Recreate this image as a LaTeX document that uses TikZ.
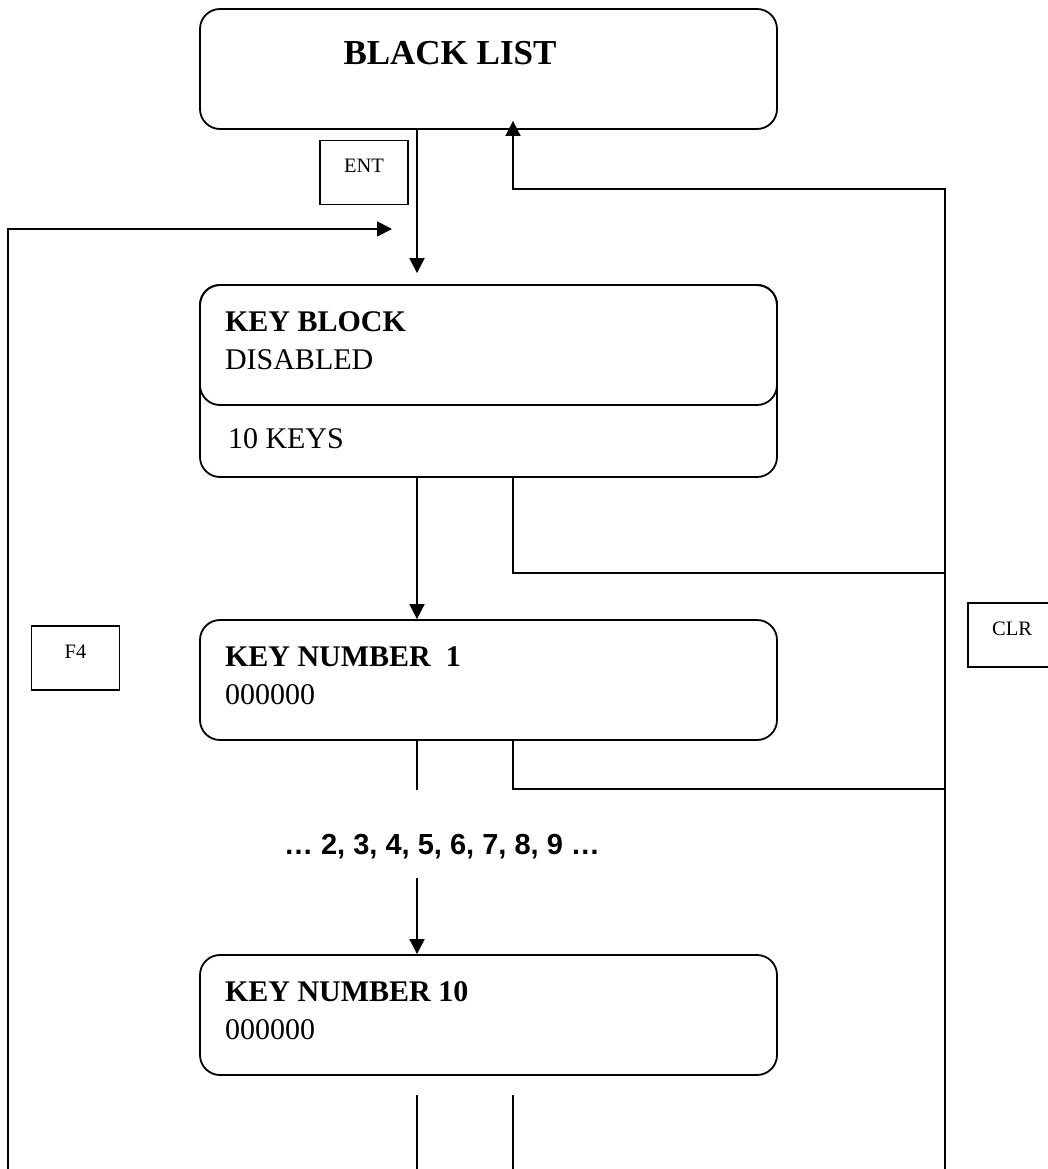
\documentclass[tikz,border=0pt]{standalone}
\usepackage{fontspec}
\setmainfont{Liberation Serif}
\newfontfamily\arialfont{Liberation Sans}
\usetikzlibrary{arrows.meta,positioning}

\tikzset{
  menubox/.style={draw, rounded corners=20pt, minimum width=577pt, minimum height=120pt, inner sep=0pt},
  keybox/.style={draw, minimum width=88pt, minimum height=64pt, inner sep=0pt,
    text height=14pt, text depth=14pt, font=\fontsize{20.5}{24}\selectfont},
  menuhead/.style={anchor=base west, inner sep=0pt, font=\bfseries\fontsize{30}{36}\selectfont},
  menuline/.style={anchor=base west, inner sep=0pt, font=\fontsize{30}{36}\selectfont},
  flow/.style={-{Triangle[length=15pt,width=15pt]}},
}

\begin{document}
\begin{tikzpicture}[x=1pt, y=-1pt, line width=1.8pt]
  \useasboundingbox (0,0) rectangle (1047,1169);

  % columns of the connectors
  \coordinate (colA) at (417,0);
  \coordinate (colB) at (513,0);
  \coordinate (colR) at (945,0);

  % menu screens
  \node[menubox] (black) at (488.5,69) {};
  \node[inner sep=0pt, anchor=base, font=\bfseries\fontsize{35}{40}\selectfont] (blacktitle) at (450,65) {BLACK LIST};

  \node[menubox, minimum height=192pt] (keyblock) at (488.5,381) {};
  \node[menubox, anchor=north] (keyblockhead) at (keyblock.north) {};
  \node[menuhead] (keyblockname) at ([shift={(25,47)}]keyblock.north west) {KEY BLOCK};
  \node[menuline] (keyblockstate) at ([shift={(25,85)}]keyblock.north west) {DISABLED};
  \node[menuline] (keycount) at ([shift={(28,-29)}]keyblock.south west) {10 KEYS};

  \node[menubox] (keyone) at (488.5,680) {};
  \node[menuhead] (keyonename) at ([shift={(25,47)}]keyone.north west) {KEY NUMBER\ \ 1};
  \node[menuline] (keyonecode) at ([shift={(25,85)}]keyone.north west) {000000};

  \node[inner sep=0pt, font=\arialfont\bfseries\fontsize{29}{34}\selectfont] (dots) at (442,847) {… 2, 3, 4, 5, 6, 7, 8, 9 …};

  \node[menubox] (keyten) at (488.5,1015) {};
  \node[menuhead] (keytenname) at ([shift={(25,47)}]keyten.north west) {KEY NUMBER 10};
  \node[menuline] (keytencode) at ([shift={(25,85)}]keyten.north west) {000000};

  % keys
  \node[keybox] (ent) at (364,172.5) {ENT};
  \node[keybox] (ffour) at (75.5,658) {F4};
  \node[keybox] (clr) at (1012,635) {CLR};

  % free ends
  \coordinate (leftbottom) at (8,1169);
  \coordinate (rightbottom) at (945,1169);
  \coordinate (entin) at (392,229);
  \coordinate (clrin) at (513,189);
  \coordinate (backA) at (945,573);
  \coordinate (backB) at (945,789);
  \coordinate (gapA) at (417,790);
  \coordinate (gapB) at (417,878);
  \coordinate (tailA) at (417,1095);
  \coordinate (tailB) at (513,1095);

  % forward
  \draw[flow, shorten >=11pt] (black.south -| colA) -- (keyblock.north -| colA);
  \draw[flow] (keyblock.south -| colA) -- (keyone.north -| colA);
  \draw (keyone.south -| colA) -- (gapA);
  \draw[flow] (gapB) -- (keyten.north -| colA);
  \draw (tailA) -- (tailA |- leftbottom);
  \draw (tailB) -- (tailB |- leftbottom);

  % back with CLR
  \draw (keyblock.south -| colB) |- (backA);
  \draw (keyone.south -| colB) |- (backB);
  \draw[flow, shorten >=-9pt] (rightbottom) |- (clrin) -- (clrin |- black.south);

  % loop with F4
  \draw[flow] (leftbottom) |- (entin);
\end{tikzpicture}
\end{document}
